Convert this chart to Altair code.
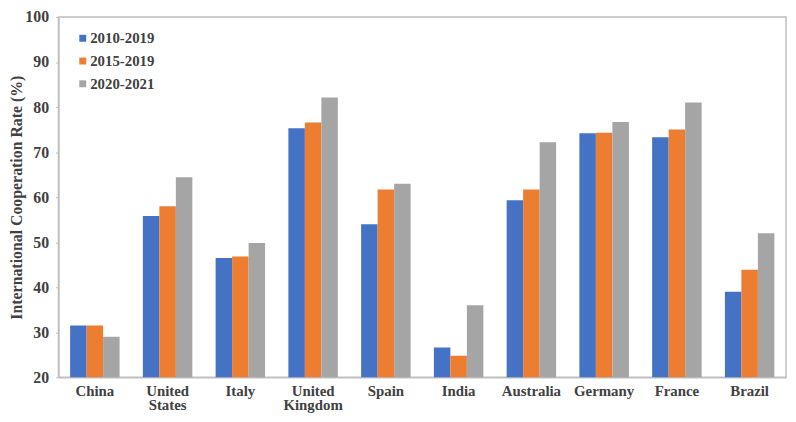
import altair as alt
import pandas as pd

countries = ["China", "United States", "Italy", "United Kingdom", "Spain",
             "India", "Australia", "Germany", "France", "Brazil"]
periods = ["2010-2019", "2015-2019", "2020-2021"]
v_2010_2019 = [31.5, 55.8, 46.5, 75.3, 54.0, 26.6, 59.3, 74.2, 73.3, 39.0]
v_2015_2019 = [31.5, 58.0, 46.8, 76.6, 61.7, 24.8, 61.7, 74.3, 75.0, 43.9]
v_2020_2021 = [29.0, 64.4, 49.8, 82.1, 63.0, 36.0, 72.2, 76.7, 81.0, 52.0]
colors = ["#4472C4", "#ED7D31", "#A5A5A5"]
y_ticks = [20, 30, 40, 50, 60, 70, 80, 90, 100]

rows = []
for p, vals in zip(periods, [v_2010_2019, v_2015_2019, v_2020_2021]):
    for c, v in zip(countries, vals):
        rows.append({"Country": c, "Period": p, "Rate": v})
df = pd.DataFrame(rows)

FONT = "Liberation Serif"
TXT = "#404040"

chart = alt.Chart(df).mark_bar(clip=True).encode(
    x=alt.X("Country:N", sort=countries,
            scale=alt.Scale(paddingInner=0.32, paddingOuter=0.16),
            axis=alt.Axis(title=None, labelAngle=0, labelExpr="split(datum.label, ' ')",
                          labelFont=FONT, labelFontSize=15, labelFontWeight="bold",
                          labelColor=TXT, labelPadding=6, labelLineHeight=15,
                          ticks=False, domainColor="#BFBFBF", domainWidth=1.5)),
    xOffset=alt.XOffset("Period:N", sort=periods),
    y=alt.Y("Rate:Q", scale=alt.Scale(domain=[20, 100], nice=False, zero=False),
            axis=alt.Axis(title="International Cooperation Rate (%)", values=y_ticks,
                          grid=False, labelFont=FONT, labelFontSize=16, labelFontWeight="bold",
                          labelColor=TXT, labelPadding=7, tickSize=3, tickColor="#BFBFBF",
                          domainColor="#BFBFBF", domainWidth=1.5,
                          titleFont=FONT, titleFontSize=16, titleFontWeight="bold",
                          titleColor=TXT, titlePadding=0)),
    color=alt.Color("Period:N", sort=periods,
                    scale=alt.Scale(domain=periods, range=colors),
                    legend=alt.Legend(title=None, orient="none", legendX=17, legendY=14,
                                      symbolType="square", symbolSize=49,
                                      symbolStrokeWidth=0, labelFont=FONT,
                                      labelFontSize=15, labelFontWeight="bold",
                                      labelColor=TXT, rowPadding=7, labelOffset=0)),
).properties(
    width=735, height=364,
    autosize=alt.AutoSizeParams(type="none"),
    padding={"left": 51, "top": 7, "right": 2, "bottom": 35},
).configure_view(stroke="#BFBFBF", strokeWidth=1.5)

chart.save("out.html", embed_options={"renderer": "svg", "actions": False})
